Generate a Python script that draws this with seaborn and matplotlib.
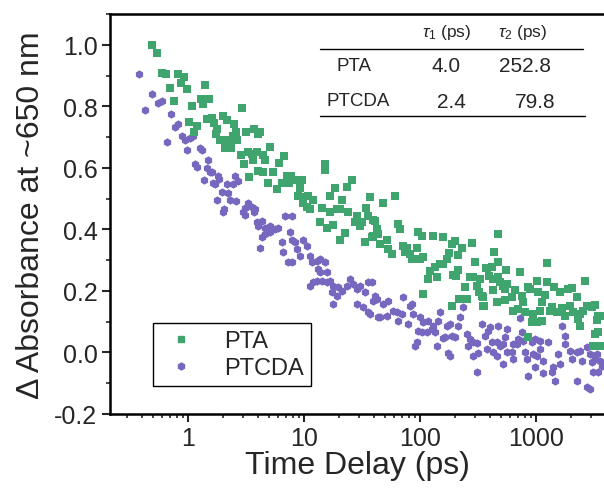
import numpy as np
import pandas as pd
import matplotlib
matplotlib.use('Agg')
import matplotlib.pyplot as plt
from matplotlib.ticker import MultipleLocator, LogLocator, NullFormatter
from matplotlib.lines import Line2D
import seaborn as sns

# Transient absorption decay (time delay in ps, delta A at ~650 nm)
pta_time = [0.49, 0.54, 0.60, 0.65, 0.82, 0.92, 0.87, 0.70, 0.98, 1.40,
            0.76, 1.08, 1.29, 1.35, 1.52, 2.92, 1.02, 1.20, 1.13, 1.46,
            1.61, 1.68, 2.00, 2.17, 2.49, 1.78, 1.74, 1.89, 2.17, 2.30,
            2.64, 2.44, 2.59, 2.08, 2.35, 3.16, 3.71, 4.01, 2.86, 3.04,
            3.29, 3.56, 3.93, 3.63, 3.36, 4.01,
            4.18, 4.43, 4.61, 5.09, 4.43, 5.41, 6.09, 6.72, 4.90, 5.85,
            6.46, 7.13, 7.73, 7.42, 8.36, 9.61, 9.24, 8.87, 9.80, 9.80,
            10.6, 11.3, 10.8, 12.0, 14.3, 15.2, 15.2, 13.7, 15.8, 17.8,
            16.8, 18.5, 21.3, 16.8, 19.2, 20.4, 24.0, 23.5, 25.9, 28.6,
            27.5, 30.4, 31.6, 20.4, 22.6, 33.6, 37.1, 34.2, 35.6, 39.4,
            42.6, 39.4, 43.5,
            48.0, 60.8, 40.9, 38.6, 45.2, 52.0, 53.0, 57.4, 64.6, 67.3,
            71.3, 77.3, 74.3, 82.0, 85.3, 94.3, 100, 106, 96.2, 104,
            129, 158, 189, 200, 230, 213, 281, 122, 135, 140,
            149, 158, 171, 178, 117, 106, 192, 204, 213, 189,
            217, 254, 244, 270, 286, 310, 323, 349, 356, 298,
            371, 394,
            470, 434, 470, 378, 418, 551, 728, 1245, 329, 426,
            470, 490, 520, 562, 426, 541, 342, 349, 461, 541,
            621, 659, 757, 773, 853, 888, 1020, 1040, 1245, 1196,
            1127, 1082, 1430, 1611, 1887, 2043, 2254, 2645, 634, 699,
            804, 943, 924, 1020, 1127, 1321, 1374, 1518, 1676, 1778,
            1964, 2084, 2393, 2300, 2393, 2543, 2754, 3042, 3226, 3357,
            3424, 3707, 853, 3226, 3424, 3100, 3562]
pta_abs = [1.00, 0.974, 0.909, 0.906, 0.906, 0.896, 0.877, 0.861, 0.857, 0.870,
           0.818, 0.802, 0.825, 0.809, 0.825, 0.796, 0.750, 0.737, 0.718, 0.760,
           0.763, 0.747, 0.770, 0.757, 0.744, 0.727, 0.711, 0.692, 0.689, 0.692,
           0.689, 0.702, 0.718, 0.663, 0.666, 0.718, 0.727, 0.711, 0.643, 0.611,
           0.653, 0.646, 0.650, 0.627, 0.569, 0.591,
           0.715, 0.643, 0.627, 0.669, 0.588, 0.588, 0.617, 0.637, 0.552, 0.530,
           0.552, 0.575, 0.575, 0.552, 0.559, 0.559, 0.536, 0.507, 0.504, 0.487,
           0.474, 0.465, 0.507, 0.497, 0.471, 0.614, 0.594, 0.423, 0.406, 0.413,
           0.507, 0.536, 0.497, 0.455, 0.465, 0.465, 0.458, 0.539, 0.559, 0.442,
           0.423, 0.410, 0.423, 0.367, 0.387, 0.358, 0.504, 0.471, 0.442, 0.432,
           0.400, 0.377, 0.384,
           0.487, 0.510, 0.426, 0.374, 0.351, 0.367, 0.335, 0.319, 0.416, 0.400,
           0.345, 0.341, 0.325, 0.319, 0.303, 0.341, 0.303, 0.309, 0.390, 0.380,
           0.380, 0.374, 0.351, 0.361, 0.338, 0.316, 0.355, 0.264, 0.277, 0.244,
           0.286, 0.286, 0.303, 0.322, 0.238, 0.189, 0.251, 0.247, 0.267, 0.150,
           0.173, 0.173, 0.212, 0.244, 0.244, 0.215, 0.195, 0.179, 0.150, 0.293,
           0.273, 0.247,
           0.384, 0.328, 0.293, 0.273, 0.277, 0.267, 0.260, 0.290, 0.238, 0.238,
           0.244, 0.228, 0.215, 0.221, 0.202, 0.205, 0.182, 0.150, 0.163, 0.170,
           0.179, 0.202, 0.182, 0.163, 0.212, 0.205, 0.231, 0.195, 0.228, 0.186,
           0.163, 0.134, 0.212, 0.195, 0.205, 0.208, 0.179, 0.231, 0.134, 0.140,
           0.131, 0.124, 0.098, 0.098, 0.101, 0.134, 0.147, 0.131, 0.144, 0.118,
           0.150, 0.131, 0.124, 0.108, 0.085, 0.134, 0.150, 0.147, 0.153, 0.105,
           0.118, 0.118, 0.049, 0.059, 0.066, 0.020, 0.020]

ptcda_time = [0.38, 0.49, 0.43, 0.55, 0.60, 0.71, 0.66, 0.77, 0.82, 0.89,
              0.94, 1.04, 1.10, 0.98, 1.27, 1.32, 1.15, 1.20, 1.49, 1.46,
              1.55, 1.61, 1.37, 1.81, 1.85, 1.64, 1.71, 2.17, 2.44, 2.54,
              2.70, 1.96, 2.21, 2.30, 2.59, 1.78, 2.04, 2.00, 2.98, 3.10,
              3.29, 3.56, 3.71, 3.10, 3.93, 4.01, 4.18,
              3.78, 4.34, 4.61, 5.09, 6.86, 7.88, 4.34, 4.61, 5.09, 5.62,
              5.97, 6.46, 6.59, 7.57, 7.88, 8.36, 8.70, 9.80, 9.24, 7.88,
              7.28, 10.6, 11.3, 11.7, 12.9, 13.2, 13.7, 15.2, 15.8, 13.7,
              12.0, 11.3, 12.9, 14.3, 15.8, 16.8, 17.8, 19.6, 17.4, 19.2,
              21.3, 23.5, 24.9, 26.4, 28.6, 30.4, 33.6, 35.6, 38.6, 17.8,
              28.6, 32.3, 35.6, 42.6, 43.5, 40.9,
              39.4, 48.0, 53.0, 37.1, 45.2, 52.0, 58.5, 63.4, 70.0, 64.6,
              71.3, 78.9, 82.0, 85.3, 87.1, 100, 106, 117, 143, 149,
              96.2, 104, 115, 127, 129, 135, 171, 181, 189, 200,
              213, 221, 90.6, 94.3, 140, 158, 164, 174, 181, 235,
              254, 270, 286, 310, 259, 286, 316, 310, 342, 363,
              378, 386,
              401, 470, 562, 728, 541, 418, 461, 490, 520, 426,
              461, 562, 621, 634, 686, 699, 757, 773, 804, 924,
              980, 1082, 1082, 943, 1020, 1269, 520, 634, 836, 1149,
              1549, 1676, 1778, 1778, 1964, 2043, 2254, 2393, 2493, 2754,
              2923, 3042, 3226, 3357, 3562, 3707, 3424, 3100, 853, 980,
              1149, 1374, 1402, 1459, 2254, 2754, 2923, 1611]
ptcda_abs = [0.906, 0.841, 0.789, 0.812, 0.818, 0.776, 0.685, 0.734, 0.744, 0.702,
             0.689, 0.698, 0.702, 0.659, 0.663, 0.659, 0.611, 0.604, 0.624, 0.601,
             0.588, 0.585, 0.562, 0.572, 0.565, 0.552, 0.546, 0.546, 0.549, 0.572,
             0.556, 0.523, 0.517, 0.497, 0.491, 0.497, 0.465, 0.458, 0.458, 0.448,
             0.487, 0.474, 0.455, 0.471, 0.423, 0.410, 0.338,
             0.465, 0.426, 0.406, 0.410, 0.442, 0.442, 0.374, 0.384, 0.390, 0.400,
             0.406, 0.358, 0.325, 0.390, 0.367, 0.358, 0.335, 0.367, 0.312, 0.293,
             0.293, 0.345, 0.312, 0.293, 0.296, 0.270, 0.303, 0.293, 0.260, 0.260,
             0.228, 0.215, 0.231, 0.231, 0.228, 0.231, 0.215, 0.212, 0.195, 0.182,
             0.199, 0.215, 0.238, 0.221, 0.205, 0.215, 0.195, 0.228, 0.228, 0.157,
             0.157, 0.147, 0.131, 0.173, 0.114, 0.182,
             0.166, 0.157, 0.166, 0.124, 0.114, 0.118, 0.134, 0.131, 0.124, 0.101,
             0.179, 0.092, 0.150, 0.157, 0.124, 0.114, 0.098, 0.101, 0.101, 0.131,
             0.069, 0.066, 0.066, 0.075, 0.085, 0.066, 0.085, 0.092, 0.053, 0.049,
             0.085, 0.114, 0.020, 0.033, 0.020, 0.046, 0.049, -0.002, -0.012, 0.147,
             0.059, 0.043, 0.033, 0.030, 0.020, -0.012, -0.002, -0.064, 0.092, 0.053,
             0.011, 0.069,
             0.082, 0.085, 0.075, 0.111, 0.049, 0.033, 0.033, 0.020, 0.027, 0.001,
             -0.012, 0.001, 0.001, 0.027, 0.027, 0.043, 0.066, 0.036, 0.001, 0.033,
             0.043, 0.036, 0.011, -0.006, -0.012, 0.033, -0.038, -0.022, -0.022, -0.028,
             -0.006, 0.085, 0.053, 0.027, 0.004, -0.022, 0.001, 0.004, -0.028, 0.017,
             -0.006, -0.032, -0.022, -0.006, -0.028, -0.045, -0.064, -0.064, -0.077, -0.048,
             -0.067, -0.064, -0.048, -0.093, -0.093, -0.112, -0.119, -0.038]

# lifetimes table (inset)
samples = ['PTA', 'PTCDA']
tau1 = ['4.0', '2.4']
tau2 = ['252.8', '79.8']

colors = {'PTA': '#3fa46e', 'PTCDA': '#7767bf'}

df = pd.concat([
    pd.DataFrame({'Time': pta_time, 'dA': pta_abs, 'Sample': 'PTA'}),
    pd.DataFrame({'Time': ptcda_time, 'dA': ptcda_abs, 'Sample': 'PTCDA'}),
], ignore_index=True)

sns.set_style('ticks')
plt.rcParams['font.family'] = ['Liberation Sans', 'DejaVu Sans']
plt.rcParams['mathtext.fontset'] = 'custom'
plt.rcParams['mathtext.rm'] = 'Liberation Sans'
plt.rcParams['mathtext.it'] = 'Liberation Sans:italic'

fig = plt.figure(figsize=(6.04, 4.89), dpi=100)
ax = fig.add_axes([110 / 604, 1 - 415 / 489, 494 / 604, 400 / 489])

sns.scatterplot(data=df[df.Sample == 'PTCDA'], x='Time', y='dA', color=colors['PTCDA'],
                marker='h', s=36, linewidth=0, ax=ax, legend=False)
sns.scatterplot(data=df[df.Sample == 'PTA'], x='Time', y='dA', color=colors['PTA'],
                marker='s', s=26, linewidth=0, ax=ax, legend=False)

ax.set_xscale('log')
ax.set_xlim(0.213, 3856)
ax.set_ylim(-0.2, 1.1)
ax.set_xticks([1, 10, 100, 1000])
ax.set_xticklabels(['1', '10', '100', '1000'])
ax.xaxis.set_minor_locator(LogLocator(base=10, subs=np.arange(2, 10)))
ax.xaxis.set_minor_formatter(NullFormatter())
ax.set_yticks(np.arange(-0.2, 1.01, 0.2))
ax.set_yticklabels([f'{v:.1f}' for v in np.arange(-0.2, 1.01, 0.2)])
ax.yaxis.set_minor_locator(MultipleLocator(0.1))

ax.tick_params(which='major', direction='out', length=6, width=1.5, labelsize=18, pad=3)
ax.tick_params(which='minor', direction='out', length=3, width=1.2)
for side in ['left', 'bottom', 'top']:
    ax.spines[side].set_linewidth(1.8)
    ax.spines[side].set_color('black')
ax.spines['right'].set_visible(False)

ax.set_xlabel('Time Delay (ps)', fontsize=23, labelpad=0)
ax.set_ylabel('Δ Absorbance at ~650 nm', fontsize=23, labelpad=6)

handles = [Line2D([], [], marker='s', ls='none', color=colors['PTA'], markersize=5),
           Line2D([], [], marker='h', ls='none', color=colors['PTCDA'], markersize=5)]
leg = ax.legend(handles, samples, loc='upper left', bbox_to_anchor=(0.087, 0.2275),
                borderaxespad=0, fontsize=17, frameon=True, fancybox=False,
                edgecolor='black', framealpha=1, handlelength=1.8,
                handletextpad=0.9, borderpad=0.3, labelspacing=0.2)
leg.get_frame().set_linewidth(1.0)

# inset table with fitted lifetimes
fig.add_artist(Line2D([320 / 604, 583 / 604], [1 - 50 / 489, 1 - 50 / 489], color='black', lw=1.0))
fig.add_artist(Line2D([320 / 604, 585 / 604], [1 - 117 / 489, 1 - 117 / 489], color='black', lw=1.0))
fig.text(447 / 604, 1 - 33 / 489, r'$\tau_1$ (ps)', fontsize=12.5, ha='center', va='center')
fig.text(523 / 604, 1 - 33 / 489, r'$\tau_2$ (ps)', fontsize=12.5, ha='center', va='center')
row_y = [67, 102]
name_x = [354, 358]
t1_x = [446, 451]
t2_x = [525, 535]
for i, name in enumerate(samples):
    y = 1 - row_y[i] / 489
    fig.text(name_x[i] / 604, y, name, fontsize=13.5, ha='center', va='center')
    fig.text(t1_x[i] / 604, y, tau1[i], fontsize=15, ha='center', va='center')
    fig.text(t2_x[i] / 604, y, tau2[i], fontsize=15, ha='center', va='center')

fig.savefig('out.png', dpi=100)
